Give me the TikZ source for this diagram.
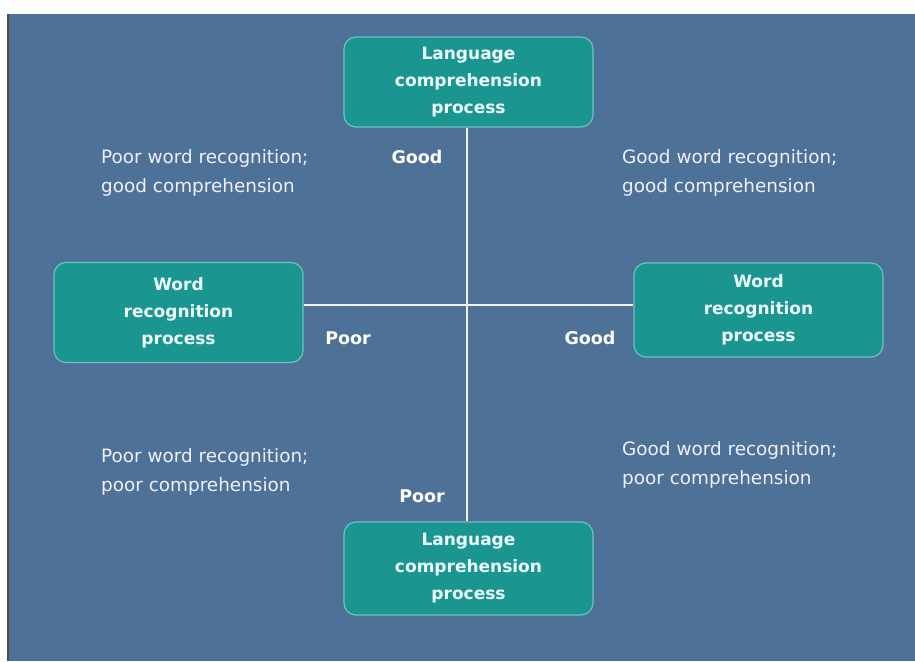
\documentclass[tikz,border=0pt]{standalone}
\usepackage{fontspec}
\setmainfont{DejaVu Sans}
\usetikzlibrary{positioning}
\definecolor{slide}{HTML}{4E7198}
\definecolor{boxfill}{HTML}{1A9590}
\definecolor{boxline}{HTML}{6CC3BE}
\definecolor{boxtext}{HTML}{EFFFFF}
\tikzset{
  procbox/.style={draw=boxline, line width=1.2pt, fill=boxfill, rounded corners=12pt,
    text=boxtext, align=center, font=\bfseries\fontsize{17}{27}\selectfont,
    minimum width=249pt, inner sep=0pt},
  axislabel/.style={text=white, font=\bfseries\fontsize{17.5}{20}\selectfont, inner sep=0pt},
  quadtext/.style={text=white!94!blue, align=left, anchor=north west, inner sep=0pt,
    font=\fontsize{18.4}{29}\selectfont},
  axisline/.style={draw=white!95!blue, line width=2.6pt}
}
\begin{document}
\begin{tikzpicture}[x=1pt, y=-1pt]
    \useasboundingbox (0,0) rectangle (915,661);
    \fill[white] (0,0) rectangle (915,661);
    \fill[slide] (8,14) rectangle (915,661);
    \draw[black!70, line width=1.5pt] (8,14) -- (8,661);

    \node[procbox, minimum height=90pt] (lcTop) at (468.5,82) {Language\\comprehension\\process};
    \node[procbox, minimum height=93pt] (lcBot) at (468.5,568.5) {Language\\comprehension\\process};
    \node[procbox, minimum height=100pt] (wrLeft) at (178.5,312.5) {Word\\recognition\\process};
    \node[procbox, minimum height=94pt] (wrRight) at (758.5,310) {Word\\recognition\\process};

    \coordinate (hub) at (467,305);
    \draw[axisline] (lcTop.south -| hub) -- (lcBot.north -| hub);
    \draw[axisline] (wrLeft.east |- hub) -- (wrRight.west |- hub);

    \node[axislabel] (goodTop) at (417,157) {Good};
    \node[axislabel] (poorLeft) at (348,338) {Poor};
    \node[axislabel] (goodRight) at (590,338) {Good};
    \node[axislabel] (poorBot) at (422,496) {Poor};

    \node[quadtext] (qTL) at (101,149) {Poor word recognition;\\good comprehension};
    \node[quadtext] (qTR) at (622,149) {Good word recognition;\\good comprehension};
    \node[quadtext] (qBL) at (101,448) {Poor word recognition;\\poor comprehension};
    \node[quadtext] (qBR) at (622,441) {Good word recognition;\\poor comprehension};
\end{tikzpicture}
\end{document}
